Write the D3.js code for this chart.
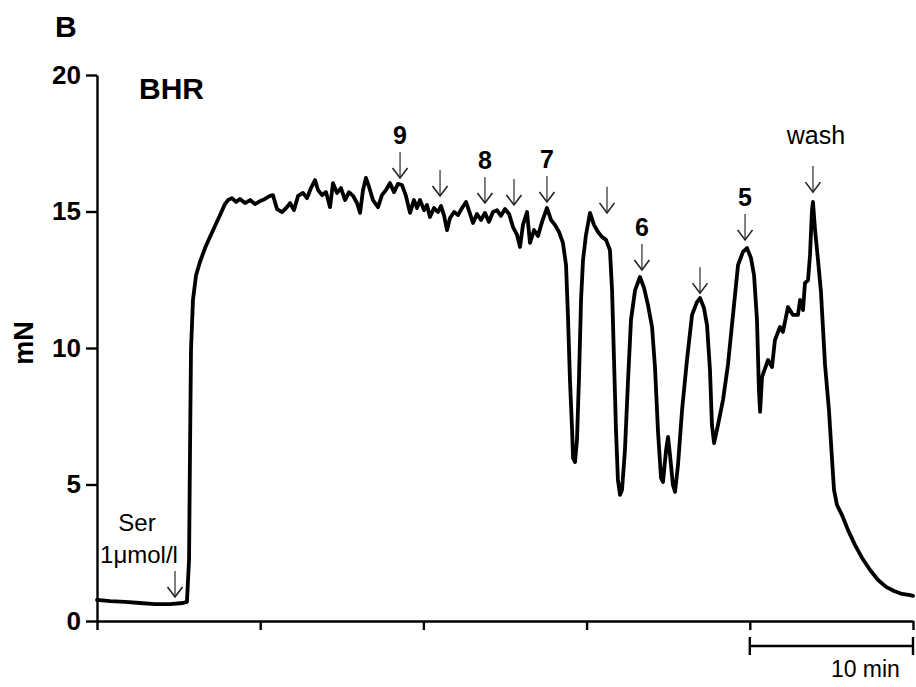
<!DOCTYPE html>
<html><head><meta charset="utf-8">
<script src="https://cdn.jsdelivr.net/npm/d3@7"></script>
<style>
body{margin:0;background:#fff;}
svg{display:block;font-family:Arial,"Liberation Sans",sans-serif;}
</style></head>
<body>
<svg id="chart" width="916" height="687"></svg>
<script>
// ---- data (time in min, force in mN) ----
const traceTime = [0,0.80,1.72,2.63,3.55,4.47,5.27,5.51,5.64,5.70,5.76,5.88,6.07,6.31,6.62,6.92,7.23,7.54,7.84,8.03,
8.27,8.52,8.76,9.07,9.38,9.68,9.99,10.29,10.60,10.78,11.03,11.34,11.64,11.83,12.07,12.32,12.62,12.87,13.11,13.36,
13.54,13.79,14.03,14.28,14.46,14.71,14.95,15.20,15.44,15.69,15.93,16.12,16.30,16.48,16.67,16.91,17.22,17.46,17.71,17.95,
18.20,18.44,18.69,18.93,19.18,19.42,19.61,19.79,20.04,20.22,20.40,20.65,20.89,21.08,21.26,21.45,21.63,21.88,22.12,22.37,
22.61,22.86,23.04,23.28,23.53,23.77,24.02,24.26,24.51,24.75,25.00,25.25,25.49,25.74,25.92,26.10,26.35,26.53,26.78,27.02,
27.27,27.57,27.82,28.06,28.31,28.55,28.74,28.86,28.98,29.11,29.17,29.29,29.41,29.53,29.66,29.78,29.96,30.21,30.45,30.70,
30.94,31.19,31.43,31.56,31.68,31.80,31.92,32.05,32.17,32.35,32.54,32.72,32.97,33.27,33.52,33.76,34.01,34.19,34.38,34.56,
34.68,34.87,34.99,35.11,35.29,35.42,35.60,35.85,36.15,36.46,36.76,36.95,37.19,37.38,37.56,37.68,37.81,38.05,38.36,38.66,
38.97,39.28,39.58,39.83,40.07,40.26,40.44,40.56,40.63,40.75,41.12,41.36,41.54,41.85,42.03,42.34,42.65,42.95,43.08,43.26,
43.38,43.57,43.69,43.81,43.87,44.00,44.18,44.36,44.61,44.85,45.04,45.16,45.34,45.65,46.02,46.45,46.88,47.37,47.86,48.35,
48.84,49.33,49.82,50.00];
const traceForce = [0.77,0.73,0.70,0.66,0.62,0.62,0.66,0.70,2.23,6.26,9.93,11.76,12.67,13.15,13.66,14.07,14.47,14.87,15.27,15.42,
15.49,15.35,15.46,15.31,15.42,15.27,15.38,15.46,15.57,15.60,15.09,14.98,15.16,15.31,15.05,15.57,15.68,15.49,15.86,16.15,
15.79,15.60,15.71,15.16,16.04,15.68,15.86,15.42,15.71,15.57,15.31,14.95,15.79,16.23,15.90,15.42,15.16,15.60,15.79,16.04,
15.71,16.01,15.97,15.57,14.95,15.42,15.13,15.42,15.05,15.24,14.80,15.13,14.98,15.20,14.87,14.32,14.76,14.98,14.87,15.13,
15.35,14.91,14.58,14.91,14.69,14.95,14.62,14.98,15.05,14.84,15.09,14.91,14.43,14.14,13.70,14.51,14.98,13.85,14.32,14.10,
14.62,15.13,14.69,14.51,14.25,13.85,13.04,11.14,8.83,7.00,5.97,5.82,6.63,8.83,11.76,13.22,14.14,14.95,14.51,14.25,
14.07,13.96,13.59,12.12,9.56,7.00,5.16,4.62,4.80,6.26,8.83,11.03,12.12,12.60,12.20,11.58,10.77,9.30,6.89,5.24,
5.09,6.26,6.74,6.08,4.98,4.73,5.71,7.73,9.56,11.21,11.68,11.83,11.47,10.84,9.19,7.18,6.52,7.18,8.10,9.38,
11.21,13.04,13.52,13.66,13.30,12.67,11.03,8.46,7.66,8.94,9.56,9.30,10.29,10.77,10.59,11.50,11.21,11.21,11.76,11.39,
12.38,12.49,13.41,15.05,15.35,14.32,13.22,12.05,9.38,7.73,5.90,4.80,4.25,3.88,3.33,2.78,2.31,1.87,1.50,1.25,
1.10,0.99,0.95,0.92];

const yTicks = [0, 5, 10, 15, 20];
const xTicks = [0, 10, 20, 30, 40, 50];
const scaleBar = [40, 50];
const scaleBarLabel = "10 min";

// additions: time (min), arrow tip level (mN), label lines
const addTime  = [4.78, 18.57, 21.02, 23.77, 25.55, 27.57, 31.25, 33.39, 36.95, 39.71, 43.87];
const addTip   = [0.88, 16.23, 15.57, 15.31, 15.24, 15.35, 14.95, 12.86, 12.01, 13.96, 15.71];
const addLabel = [["Ser","1\u03bcmol/l"], ["9"], [], ["8"], [], ["7"], [], ["6"], [], ["5"], ["wash"]];

const panelLabel = "B";
const titleText = "BHR";
const yLabel = "mN";

// ---- drawing ----
const svg = d3.select("#chart");
const x = d3.scaleLinear().domain([0, 50]).range([97, 913]);
const y = d3.scaleLinear().domain([0, 20]).range([621, 75]);

// axes
const yAxis = svg.append("g").attr("transform", "translate(97,0)")
  .call(d3.axisLeft(y).tickValues(yTicks).tickSize(11).tickPadding(5).tickSizeOuter(0));
yAxis.selectAll("text").attr("font-size", 26).attr("font-weight", "bold").attr("fill", "#000")
  .attr("font-family", "Arial, 'Liberation Sans', sans-serif");
const xAxis = svg.append("g").attr("transform", "translate(0,621)")
  .call(d3.axisBottom(x).tickValues(xTicks).tickSize(9).tickFormat("").tickSizeOuter(0));
svg.selectAll(".domain, .tick line").attr("stroke", "#000").attr("stroke-width", 2.4);

// trace
const pts = traceTime.map((t, i) => [t, traceForce[i]]);
svg.append("path").datum(pts)
  .attr("fill", "none").attr("stroke", "#000").attr("stroke-width", 3.8)
  .attr("stroke-linejoin", "round").attr("stroke-linecap", "round")
  .attr("d", d3.line().x(d => x(d[0])).y(d => y(d[1])));

// arrows + labels
const arrowLen = 26;
addTime.forEach((t, i) => {
  const ax = x(t), tip = y(addTip[i]), top = tip - arrowLen;
  const g = svg.append("g");
  g.append("line").attr("x1", ax).attr("x2", ax).attr("y1", top).attr("y2", tip)
    .attr("stroke", "#555").attr("stroke-width", 1.5);
  g.append("path").attr("d", `M${ax-7.5},${tip-10}L${ax},${tip}L${ax+7.5},${tip-10}`)
    .attr("fill", "none").attr("stroke", "#222").attr("stroke-width", 1.6);
  const lines = addLabel[i];
  if (!lines.length) return;
  const isNum = /^\d+$/.test(lines[0]);
  if (isNum) {
    g.append("text").attr("x", ax).attr("y", top - 8).attr("text-anchor", "middle")
      .attr("font-size", 25).attr("font-weight", "bold").text(lines[0]);
  } else if (lines.length === 1) {
    g.append("text").attr("x", ax + 3).attr("y", top - 22).attr("text-anchor", "middle")
      .attr("font-size", 25).text(lines[0]);
  } else {
    g.append("text").attr("x", ax - 38).attr("y", top - 40).attr("text-anchor", "middle")
      .attr("font-size", 24).text(lines[0]);
    g.append("text").attr("x", ax - 36).attr("y", top - 8).attr("text-anchor", "middle")
      .attr("font-size", 24).text(lines[1]);
  }
});

// scale bar
const sbY = 646;
svg.append("line").attr("x1", x(scaleBar[0])).attr("x2", x(scaleBar[1])).attr("y1", sbY).attr("y2", sbY)
  .attr("stroke", "#000").attr("stroke-width", 2.4);
scaleBar.forEach(v => svg.append("line").attr("x1", x(v)).attr("x2", x(v)).attr("y1", sbY - 9).attr("y2", sbY + 9)
  .attr("stroke", "#000").attr("stroke-width", 2.4));
svg.append("text").attr("x", (x(scaleBar[0]) + x(scaleBar[1])) / 2 + 34).attr("y", 677)
  .attr("text-anchor", "middle").attr("font-size", 23).text(scaleBarLabel);

// titles
svg.append("text").attr("x", 55).attr("y", 37).attr("font-size", 30).attr("font-weight", "bold").text(panelLabel);
svg.append("text").attr("x", 139).attr("y", 99).attr("font-size", 30).attr("font-weight", "bold").text(titleText);
svg.append("text").attr("transform", "translate(33,343) rotate(-90)").attr("text-anchor", "middle")
  .attr("font-size", 27).attr("font-weight", "bold").text(yLabel);
</script>
</body></html>
